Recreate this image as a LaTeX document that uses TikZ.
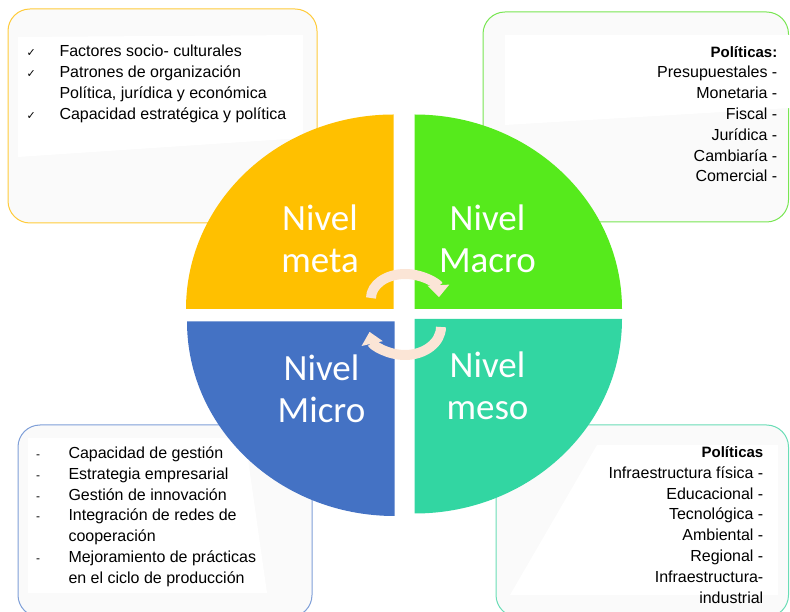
\documentclass[tikz,border=0pt]{standalone}
\usepackage{fontspec}
\setmainfont{Liberation Sans}
\newfontfamily\nivelfont{Carlito}
\newfontfamily\symbfont{DejaVu Sans}
\usetikzlibrary{arrows.meta}
\definecolor{metacol}{HTML}{FFC000}
\definecolor{macrocol}{HTML}{56EA1C}
\definecolor{microcol}{HTML}{4472C4}
\definecolor{mesocol}{HTML}{32D6A2}
\definecolor{metaline}{HTML}{FFCB3A}
\definecolor{macroline}{HTML}{78E652}
\definecolor{microline}{HTML}{7F9FD8}
\definecolor{mesoline}{HTML}{6ADDB6}
\definecolor{boxgray}{HTML}{FAFAFA}
\definecolor{peach}{HTML}{FBE5D6}
\begin{document}
\begin{tikzpicture}[>={Triangle[width=21bp,length=12bp]},line join=bevel,
  box/.style={line width=1bp,rounded corners=22bp,fill=boxgray},
  list/.style={inner sep=0pt,font=\fontsize{16bp}{20.8bp}\selectfont},
  nivel/.style={inner sep=0pt,text=white,font=\nivelfont\fontsize{37bp}{42bp}\selectfont},
  cyclearrow/.style={draw=peach,line width=10bp,->},]
%%
\useasboundingbox (0bp,0bp) rectangle (790bp,612bp);
% cuadros de fondo
\draw [box,draw=metaline] (8bp,389bp) rectangle (317bp,603bp);
  \draw [box,draw=macroline] (483bp,390bp) rectangle (788.5bp,600bp);
  \draw [box,draw=microline] (18bp,-5bp) rectangle (312bp,187bp);
  \draw [box,draw=mesoline] (496bp,-5bp) rectangle (788.5bp,187bp);
  \fill [white] (18bp,575bp) -- (303bp,577bp) -- (303bp,474bp) -- (18bp,455bp) -- cycle;
  \fill [white] (505bp,577bp) -- (790bp,577bp) -- (790bp,504bp) -- (505bp,487bp) -- cycle;
  \fill [white] (28bp,174bp) -- (245bp,174bp) -- (267bp,19bp) -- (28bp,19bp) -- cycle;
  \fill [white] (597bp,167bp) -- (778bp,167bp) -- (778bp,17bp) -- (510bp,17bp) -- cycle;
%
\node (node_tl) at (26.5bp,569.9bp) [list,anchor=north west] {\begin{tabular}{@{}p{32.8bp}@{}l@{}}
  {\symbfont\fontsize{11bp}{11bp}\selectfont ✓} & Factores socio- culturales\\
  {\symbfont\fontsize{11bp}{11bp}\selectfont ✓} & Patrones de organización\\
  & Política, jurídica y económica\\
  {\symbfont\fontsize{11bp}{11bp}\selectfont ✓} & Capacidad estratégica y política
  \end{tabular}};
  \node (node_tr) at (777.5bp,569.6bp) [list,anchor=north east] {\begin{tabular}{@{}r@{}}
  {\fontsize{15bp}{20.8bp}\selectfont\bfseries Políticas:}\\
  Presupuestales -\\ Monetaria -\\ Fiscal -\\ Jurídica -\\ Cambiaría -\\ Comercial -
  \end{tabular}};
  \node (node_bl) at (36bp,168.3bp) [list,anchor=north west] {\begin{tabular}{@{}p{32.3bp}@{}l@{}}
  {\fontsize{12bp}{12bp}\selectfont -} & Capacidad de gestión\\
  {\fontsize{12bp}{12bp}\selectfont -} & Estrategia empresarial\\
  {\fontsize{12bp}{12bp}\selectfont -} & Gestión de innovación\\
  {\fontsize{12bp}{12bp}\selectfont -} & Integración de redes de\\
  & cooperación\\
  {\fontsize{12bp}{12bp}\selectfont -} & Mejoramiento de prácticas\\
  & en el ciclo de producción
  \end{tabular}};
  \node (node_br) at (763.5bp,169.3bp) [list,anchor=north east] {\begin{tabular}{@{}r@{}}
  {\fontsize{15bp}{20.8bp}\selectfont\bfseries Políticas}\\
  Infraestructura física -\\ Educacional -\\ Tecnológica -\\ Ambiental -\\ Regional -\\
  Infraestructura-\\ industrial
  \end{tabular}};
% circulo en cuatro cuartos
\fill [metacol] (393.5bp,303bp) -- ++(-207.5bp,0bp) arc [start angle=180,end angle=90,x radius=207.5bp,y radius=194.5bp] -- cycle;
  \fill [macrocol] (414.5bp,303bp) -- ++(0bp,194.5bp) arc [start angle=90,end angle=0,x radius=207.5bp,y radius=194.5bp] -- cycle;
  \fill [microcol] (394.5bp,290.5bp) -- ++(-207.5bp,0bp) arc [start angle=180,end angle=270,x radius=207.5bp,y radius=194.5bp] -- cycle;
  \fill [mesocol] (414.5bp,293bp) -- ++(0bp,-194.5bp) arc [start angle=270,end angle=360,x radius=207.5bp,y radius=194.5bp] -- cycle;
%
\node (node_meta) at (320bp,411.4bp) [nivel,anchor=north] {\begin{tabular}{@{}c@{}}Nivel\\meta\end{tabular}};
  \node (node_macro) at (487.5bp,411.4bp) [nivel,anchor=north] {\begin{tabular}{@{}c@{}}Nivel\\Macro\end{tabular}};
  \node (node_micro) at (321.5bp,261.4bp) [nivel,anchor=north] {\begin{tabular}{@{}c@{}}Nivel\\Micro\end{tabular}};
  \node (node_meso) at (487.5bp,264.4bp) [nivel,anchor=north] {\begin{tabular}{@{}c@{}}Nivel\\meso\end{tabular}};
% flechas del ciclo
\draw [cyclearrow] (371bp,314bp) arc [start angle=180,end angle=2,x radius=34bp,y radius=24bp];
  \draw [cyclearrow] (441bp,285bp) arc [start angle=0,end angle=-170,x radius=36bp,y radius=28bp];
%
\end{tikzpicture}
\end{document}
